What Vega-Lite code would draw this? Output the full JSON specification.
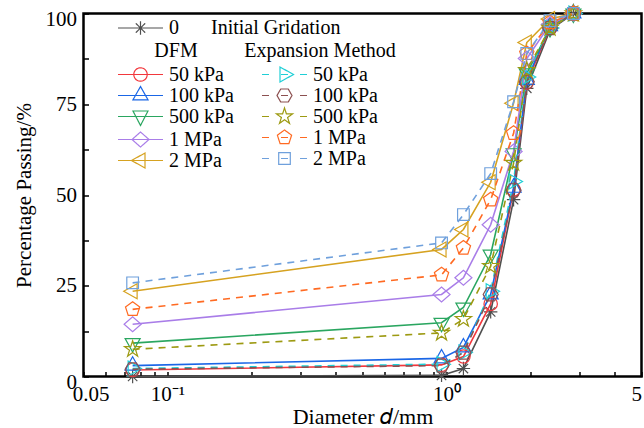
{
  "$schema": "https://vega.github.io/schema/vega-lite/v6.json",
  "width": 558,
  "height": 363,
  "autosize": {"type": "none"},
  "padding": {"left": 83.5, "top": 13.5, "right": 2.5, "bottom": 51.5},
  "background": "white",
  "config": {
    "font": "Liberation Serif",
    "view": {"stroke": "black", "strokeWidth": 2.5}
  },
  "data": {
    "values": [
      {"method": "Initial", "load": "0", "d": 0.075, "p": 0},
      {"method": "Initial", "load": "0", "d": 0.96, "p": 0.3},
      {"method": "Initial", "load": "0", "d": 1.15, "p": 2.2},
      {"method": "Initial", "load": "0", "d": 1.44, "p": 17.8},
      {"method": "Initial", "load": "0", "d": 1.74, "p": 48.7},
      {"method": "Initial", "load": "0", "d": 1.94, "p": 79.4},
      {"method": "Initial", "load": "0", "d": 2.35, "p": 95.5},
      {"method": "Initial", "load": "0", "d": 2.85, "p": 100},

      {"method": "DFM", "load": "50 kPa", "d": 0.075, "p": 1.8},
      {"method": "DFM", "load": "50 kPa", "d": 0.96, "p": 3.2},
      {"method": "DFM", "load": "50 kPa", "d": 1.15, "p": 5.5},
      {"method": "DFM", "load": "50 kPa", "d": 1.44, "p": 20},
      {"method": "DFM", "load": "50 kPa", "d": 1.74, "p": 51.5},
      {"method": "DFM", "load": "50 kPa", "d": 1.94, "p": 81},
      {"method": "DFM", "load": "50 kPa", "d": 2.35, "p": 96},
      {"method": "DFM", "load": "50 kPa", "d": 2.85, "p": 100},

      {"method": "DFM", "load": "100 kPa", "d": 0.075, "p": 3},
      {"method": "DFM", "load": "100 kPa", "d": 0.96, "p": 5},
      {"method": "DFM", "load": "100 kPa", "d": 1.15, "p": 8},
      {"method": "DFM", "load": "100 kPa", "d": 1.44, "p": 22.6},
      {"method": "DFM", "load": "100 kPa", "d": 1.74, "p": 52},
      {"method": "DFM", "load": "100 kPa", "d": 1.94, "p": 81.7},
      {"method": "DFM", "load": "100 kPa", "d": 2.35, "p": 96.5},
      {"method": "DFM", "load": "100 kPa", "d": 2.85, "p": 100},

      {"method": "DFM", "load": "500 kPa", "d": 0.075, "p": 9.2},
      {"method": "DFM", "load": "500 kPa", "d": 0.96, "p": 14.8},
      {"method": "DFM", "load": "500 kPa", "d": 1.15, "p": 19},
      {"method": "DFM", "load": "500 kPa", "d": 1.44, "p": 33.6},
      {"method": "DFM", "load": "500 kPa", "d": 1.74, "p": 61.5},
      {"method": "DFM", "load": "500 kPa", "d": 1.94, "p": 83.5},
      {"method": "DFM", "load": "500 kPa", "d": 2.35, "p": 96},
      {"method": "DFM", "load": "500 kPa", "d": 2.85, "p": 100},

      {"method": "DFM", "load": "1 MPa", "d": 0.075, "p": 14.4},
      {"method": "DFM", "load": "1 MPa", "d": 0.96, "p": 22.6},
      {"method": "DFM", "load": "1 MPa", "d": 1.15, "p": 27.2},
      {"method": "DFM", "load": "1 MPa", "d": 1.44, "p": 41.8},
      {"method": "DFM", "load": "1 MPa", "d": 1.74, "p": 62},
      {"method": "DFM", "load": "1 MPa", "d": 1.94, "p": 87.6},
      {"method": "DFM", "load": "1 MPa", "d": 2.35, "p": 97},
      {"method": "DFM", "load": "1 MPa", "d": 2.85, "p": 100},

      {"method": "DFM", "load": "2 MPa", "d": 0.075, "p": 23.5},
      {"method": "DFM", "load": "2 MPa", "d": 0.96, "p": 35},
      {"method": "DFM", "load": "2 MPa", "d": 1.15, "p": 40.5},
      {"method": "DFM", "load": "2 MPa", "d": 1.44, "p": 53.5},
      {"method": "DFM", "load": "2 MPa", "d": 1.74, "p": 75.3},
      {"method": "DFM", "load": "2 MPa", "d": 1.94, "p": 92},
      {"method": "DFM", "load": "2 MPa", "d": 2.35, "p": 98.5},
      {"method": "DFM", "load": "2 MPa", "d": 2.85, "p": 100},

      {"method": "EM", "load": "50 kPa", "d": 0.075, "p": 2.2},
      {"method": "EM", "load": "50 kPa", "d": 0.96, "p": 3.4},
      {"method": "EM", "load": "50 kPa", "d": 1.15, "p": 6.6},
      {"method": "EM", "load": "50 kPa", "d": 1.44, "p": 23.5},
      {"method": "EM", "load": "50 kPa", "d": 1.74, "p": 53.7},
      {"method": "EM", "load": "50 kPa", "d": 1.94, "p": 82.5},
      {"method": "EM", "load": "50 kPa", "d": 2.35, "p": 96},
      {"method": "EM", "load": "50 kPa", "d": 2.85, "p": 100},

      {"method": "EM", "load": "100 kPa", "d": 0.075, "p": 2},
      {"method": "EM", "load": "100 kPa", "d": 0.96, "p": 3},
      {"method": "EM", "load": "100 kPa", "d": 1.15, "p": 6.6},
      {"method": "EM", "load": "100 kPa", "d": 1.44, "p": 22.6},
      {"method": "EM", "load": "100 kPa", "d": 1.74, "p": 51.3},
      {"method": "EM", "load": "100 kPa", "d": 1.94, "p": 81.2},
      {"method": "EM", "load": "100 kPa", "d": 2.35, "p": 96},
      {"method": "EM", "load": "100 kPa", "d": 2.85, "p": 100},

      {"method": "EM", "load": "500 kPa", "d": 0.075, "p": 7.5},
      {"method": "EM", "load": "500 kPa", "d": 0.96, "p": 12},
      {"method": "EM", "load": "500 kPa", "d": 1.15, "p": 15.8},
      {"method": "EM", "load": "500 kPa", "d": 1.44, "p": 30.4},
      {"method": "EM", "load": "500 kPa", "d": 1.74, "p": 58.8},
      {"method": "EM", "load": "500 kPa", "d": 1.94, "p": 84.4},
      {"method": "EM", "load": "500 kPa", "d": 2.35, "p": 96},
      {"method": "EM", "load": "500 kPa", "d": 2.85, "p": 100},

      {"method": "EM", "load": "1 MPa", "d": 0.075, "p": 18.5},
      {"method": "EM", "load": "1 MPa", "d": 0.96, "p": 28},
      {"method": "EM", "load": "1 MPa", "d": 1.15, "p": 35.4},
      {"method": "EM", "load": "1 MPa", "d": 1.44, "p": 48.7},
      {"method": "EM", "load": "1 MPa", "d": 1.74, "p": 67},
      {"method": "EM", "load": "1 MPa", "d": 1.94, "p": 89},
      {"method": "EM", "load": "1 MPa", "d": 2.35, "p": 97.5},
      {"method": "EM", "load": "1 MPa", "d": 2.85, "p": 100},

      {"method": "EM", "load": "2 MPa", "d": 0.075, "p": 25.8},
      {"method": "EM", "load": "2 MPa", "d": 0.96, "p": 36.8},
      {"method": "EM", "load": "2 MPa", "d": 1.15, "p": 44.6},
      {"method": "EM", "load": "2 MPa", "d": 1.44, "p": 55.9},
      {"method": "EM", "load": "2 MPa", "d": 1.74, "p": 75.7},
      {"method": "EM", "load": "2 MPa", "d": 1.94, "p": 89},
      {"method": "EM", "load": "2 MPa", "d": 2.35, "p": 98},
      {"method": "EM", "load": "2 MPa", "d": 2.85, "p": 100}
    ]
  },
  "encoding": {
    "x": {
      "field": "d", "type": "quantitative",
      "scale": {"type": "log", "domain": [0.05, 5], "nice": false},
      "axis": {
        "values": [0.05, 0.06, 0.07, 0.08, 0.09, 0.1, 0.2, 0.3, 0.4, 0.5, 0.6, 0.7, 0.8, 0.9, 1, 2, 3, 4, 5],
        "labelExpr": "datum.value == 0.05 ? '0.05' : datum.value == 0.1 ? '10⁻¹' : datum.value == 1 ? '10⁰' : datum.value == 5 ? '5' : ''",
        "labelAlign": {"condition": {"test": "datum.value == 5", "value": "right"}, "value": "center"},
        "labelOffset": {"condition": {"test": "datum.value == 0.05", "value": 7}, "value": 0},
        "labelFont": "Liberation Serif", "labelFontSize": 21, "labelColor": "black",
        "titleFont": "Liberation Serif", "titleFontSize": 22, "titleFontWeight": "normal", "titleColor": "black",
        "tickColor": "black", "tickWidth": 1.5, "tickSize": -5, "domain": false, "grid": false,
        "labelPadding": 12, "labelFlush": false, "labelOverlap": false,
        "title": "Diameter 𝑑/mm", "titlePadding": 2
      }
    },
    "y": {
      "field": "p", "type": "quantitative",
      "scale": {"domain": [0, 100], "nice": false},
      "axis": {
        "values": [0, 12.5, 25, 37.5, 50, 62.5, 75, 87.5, 100],
        "labelExpr": "datum.value % 25 == 0 ? datum.label : ''",
        "labelOffset": {"condition": {"test": "datum.value == 100 || datum.value == 0", "value": 6}, "value": 0},
        "labelFont": "Liberation Serif", "labelFontSize": 21, "labelColor": "black",
        "titleFont": "Liberation Serif", "titleFontSize": 21, "titleFontWeight": "normal", "titleColor": "black",
        "tickColor": "black", "tickWidth": 1.5, "tickSize": -5, "domain": false, "grid": false,
        "labelPadding": 12, "labelFlush": false, "labelOverlap": false,
        "title": "Percentage Passing/%", "titlePadding": 11
      }
    }
  },
  "layer": [
    {
      "transform": [{"filter": "datum.method === 'Initial'"}],
      "encoding": {
        "color": {
          "field": "load", "type": "nominal", "scale": {"domain": ["0"], "range": ["#505050"]},
          "legend": {
            "orient": "none", "legendX": 33.5, "legendY": 3.5,
            "title": "Initial Gridation", "titleOrient": "right", "titlePadding": 32,
            "labelFont": "Liberation Serif", "labelFontSize": 20, "labelColor": "black",
            "titleFont": "Liberation Serif", "titleFontSize": 20, "titleFontWeight": "normal", "titleColor": "black",
            "symbolSize": 400, "symbolStrokeWidth": 1.2, "labelOffset": 30, "padding": 0,
            "encode": {"symbols": {"update": {
              "shape": {"value": "M-1,0H3.5M0.58,0H1.92M1.25,-0.67V0.67M0.78,-0.47L1.72,0.47M0.78,0.47L1.72,-0.47"},
              "fill": {"value": "transparent"},
              "strokeDash": {"value": [1, 0]}
            }}}
          }
        }
      },
      "layer": [
        {"mark": {"type": "line", "strokeWidth": 1.6}, "encoding": {}},
        {
          "mark": {"type": "point", "filled": false, "size": 180, "strokeWidth": 1.2, "opacity": 1},
          "encoding": {
            "shape": {"field": "load", "type": "nominal", "scale": {"range": ["M-1,0H1M0,-1V1M-0.7,-0.7L0.7,0.7M-0.7,0.7L0.7,-0.7"]}, "legend": null}
          }
        }
      ]
    },
    {
      "transform": [{"filter": "datum.method === 'DFM'"}],
      "encoding": {
        "color": {
          "field": "load", "type": "nominal",
          "scale": {"domain": ["50 kPa", "100 kPa", "500 kPa", "1 MPa", "2 MPa"], "range": ["#f2383d", "#1a66e6", "#2aa660", "#a97de8", "#d6a220"]},
          "legend": {
            "orient": "none", "legendX": 33.5, "legendY": 27,
            "title": "DFM", "titleAnchor": "middle", "titlePadding": 3,
            "labelFont": "Liberation Serif", "labelFontSize": 20, "labelColor": "black",
            "titleFont": "Liberation Serif", "titleFontSize": 20, "titleFontWeight": "normal", "titleColor": "black",
            "symbolSize": 400, "symbolStrokeWidth": 1.2, "labelOffset": 30, "rowPadding": -2.6, "padding": 0,
            "encode": {"symbols": {"update": {
              "shape": {"signal": "datum.value === '50 kPa' ? 'M-1,0H3.5M1.92,0A0.67,0.67 0 1 1 0.58,0A0.67,0.67 0 1 1 1.92,0' : datum.value === '100 kPa' ? 'M-1,0H3.5M1.25,-0.9L2,0.43L0.5,0.43Z' : datum.value === '500 kPa' ? 'M-1,0H3.5M1.25,0.9L2,-0.55L0.5,-0.55Z' : datum.value === '1 MPa' ? 'M-1,0H3.5M0.4,0L1.25,-0.75L2.1,0L1.25,0.75Z' : 'M-1,0H3.5M0.35,0L1.7,-0.75L1.7,0.75Z'"},
              "fill": {"value": "transparent"},
              "strokeDash": {"value": [1, 0]}
            }}}
          }
        }
      },
      "layer": [
        {"mark": {"type": "line", "strokeWidth": 1.6}, "encoding": {}},
        {
          "mark": {"type": "point", "filled": false, "size": 180, "strokeWidth": 1.2, "opacity": 1},
          "encoding": {
            "shape": {
              "field": "load", "type": "nominal",
              "scale": {"range": ["M-1.27,0L0,-1.12L1.27,0L0,1.12Z", "M0,-1.33L1.12,0.67L-1.12,0.67Z", "M-1.33,0L0.67,-1.12L0.67,1.12Z", "circle", "M0,1.33L1.12,-0.67L-1.12,-0.67Z"]},
              "legend": null
            }
          }
        }
      ]
    },
    {
      "transform": [{"filter": "datum.method === 'EM'"}],
      "encoding": {
        "color": {
          "field": "load", "type": "nominal",
          "scale": {"domain": ["50 kPa", "100 kPa", "500 kPa", "1 MPa", "2 MPa"], "range": ["#1fcfd6", "#8c5050", "#9d9a12", "#ff6a22", "#6fa0dc"]},
          "legend": {
            "orient": "none", "legendX": 160.5, "legendY": 27,
            "title": "Expansion Method", "titleAnchor": "middle", "titlePadding": 3,
            "labelFont": "Liberation Serif", "labelFontSize": 20, "labelColor": "black",
            "titleFont": "Liberation Serif", "titleFontSize": 20, "titleFontWeight": "normal", "titleColor": "black",
            "symbolSize": 400, "symbolStrokeWidth": 1.2, "labelOffset": 30, "rowPadding": -2.6, "padding": 0,
            "encode": {"symbols": {"update": {
              "shape": {"signal": "datum.value === '50 kPa' ? 'M-1,0H-0.3M0.9,0H1.6M2.8,0H3.5M2.15,0L0.8,-0.75L0.8,0.75Z' : datum.value === '100 kPa' ? 'M-1,0H-0.3M0.9,0H1.6M2.8,0H3.5M0.5,0L0.875,-0.65L1.625,-0.65L2,0L1.625,0.65L0.875,0.65Z' : datum.value === '500 kPa' ? 'M-1,0H-0.3M2.8,0H3.5M1.25,-0.85L1.441,-0.263L2.058,-0.263L1.559,0.1L1.75,0.688L1.25,0.325L0.75,0.688L0.941,0.1L0.442,-0.263L1.059,-0.263Z' : datum.value === '1 MPa' ? 'M-1,0H-0.3M0.9,0H1.6M2.8,0H3.5M1.25,-0.75L1.963,-0.232L1.691,0.607L0.809,0.607L0.537,-0.232Z' : 'M-1,0H-0.3M0.9,0H1.6M2.8,0H3.5M0.67,-0.58H1.83V0.58H0.67Z'"},
              "fill": {"value": "transparent"},
              "strokeDash": {"value": [1, 0]}
            }}}
          }
        }
      },
      "layer": [
        {"mark": {"type": "line", "strokeWidth": 1.6, "strokeDash": [7, 6]}, "encoding": {}},
        {
          "mark": {"type": "point", "filled": false, "size": 180, "strokeWidth": 1.2, "opacity": 1},
          "encoding": {
            "shape": {
              "field": "load", "type": "nominal",
              "scale": {"range": ["M0,-1.12L1.065,-0.346L0.658,0.906L-0.658,0.906L-1.065,-0.346Z", "M-1.12,0L-0.56,-0.97L0.56,-0.97L1.12,0L0.56,0.97L-0.56,0.97Z", "M-0.87,-0.87H0.87V0.87H-0.87Z", "M1.33,0L-0.67,-1.12L-0.67,1.12Z", "M0,-1.27L0.285,-0.392L1.208,-0.392L0.461,0.15L0.747,1.027L0,0.485L-0.747,1.027L-0.461,0.15L-1.208,-0.392L-0.285,-0.392Z"]},
              "legend": null
            }
          }
        }
      ]
    }
  ],
  "resolve": {
    "scale": {"color": "independent", "shape": "independent"},
    "legend": {"color": "independent"}
  }
}
